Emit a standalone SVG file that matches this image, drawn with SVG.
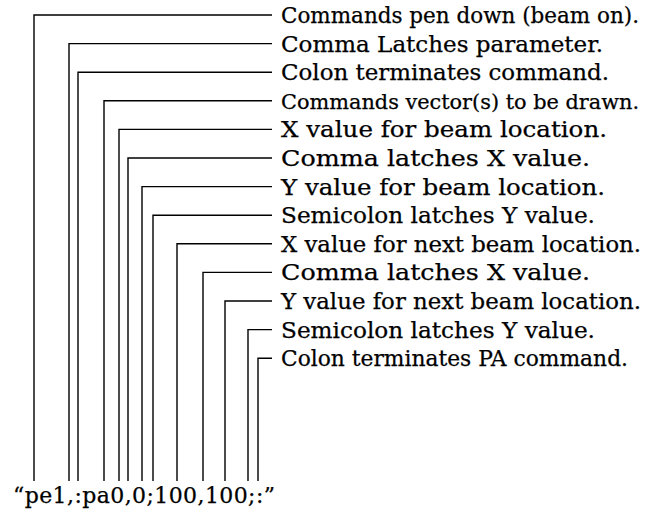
<svg xmlns="http://www.w3.org/2000/svg" width="648" height="515" viewBox="0 0 648 515">
<style>
.c{fill:none;stroke:#000;stroke-width:1.4}
.t{font-family:"DejaVu Serif","Liberation Serif",serif;font-size:22px;fill:#000;stroke:#000;stroke-width:0.25}
.s{font-size:21px}
</style>
<rect width="648" height="515" fill="#fff"/>
<g id="connectors">
<polyline class="c" points="34,481 34,15 272,15"/>
<polyline class="c" points="69,481 69,43.6 272,43.6"/>
<polyline class="c" points="78,481 78,72.2 272,72.2"/>
<polyline class="c" points="104,481 104,100.8 272,100.8"/>
<polyline class="c" points="119,481 119,129.4 272,129.4"/>
<polyline class="c" points="128,481 128,158 272,158"/>
<polyline class="c" points="142,481 142,186.6 272,186.6"/>
<polyline class="c" points="153,481 153,215.2 272,215.2"/>
<polyline class="c" points="177,481 177,243.8 272,243.8"/>
<polyline class="c" points="203,481 203,272.4 272,272.4"/>
<polyline class="c" points="225,481 225,301 272,301"/>
<polyline class="c" points="248,481 248,329.6 272,329.6"/>
<polyline class="c" points="258,481 258,358.2 272,358.2"/>
</g>
<g id="label1"><text class="t" x="281" y="23" textLength="358" lengthAdjust="spacingAndGlyphs">Commands pen down (beam on).</text></g>
<g id="label2"><text class="t" x="281" y="51.6" textLength="322" lengthAdjust="spacingAndGlyphs">Comma Latches parameter.</text></g>
<g id="label3"><text class="t" x="281" y="80.2" textLength="328" lengthAdjust="spacingAndGlyphs">Colon terminates command.</text></g>
<g id="label4"><text class="t s" x="281" y="108.8" textLength="358" lengthAdjust="spacingAndGlyphs">Commands vector(s) to be drawn.</text></g>
<g id="label5"><text class="t" x="281" y="137.4" textLength="326" lengthAdjust="spacingAndGlyphs">X value for beam location.</text></g>
<g id="label6"><text class="t" x="281" y="166" textLength="309" lengthAdjust="spacingAndGlyphs">Comma latches X value.</text></g>
<g id="label7"><text class="t" x="281" y="194.6" textLength="324" lengthAdjust="spacingAndGlyphs">Y value for beam location.</text></g>
<g id="label8"><text class="t" x="281" y="223.2" textLength="314" lengthAdjust="spacingAndGlyphs">Semicolon latches Y value.</text></g>
<g id="label9"><text class="t" x="281" y="251.8" textLength="360" lengthAdjust="spacingAndGlyphs">X value for next beam location.</text></g>
<g id="label10"><text class="t" x="281" y="280.4" textLength="309" lengthAdjust="spacingAndGlyphs">Comma latches X value.</text></g>
<g id="label11"><text class="t" x="281" y="309" textLength="360" lengthAdjust="spacingAndGlyphs">Y value for next beam location.</text></g>
<g id="label12"><text class="t" x="281" y="337.6" textLength="314" lengthAdjust="spacingAndGlyphs">Semicolon latches Y value.</text></g>
<g id="label13"><text class="t" x="281" y="366.2" textLength="347" lengthAdjust="spacingAndGlyphs">Colon terminates PA command.</text></g>
<g id="command"><text class="t" x="13" y="503" textLength="262" lengthAdjust="spacing">“pe1,:pa0,0;100,100;:”</text></g>
</svg>
